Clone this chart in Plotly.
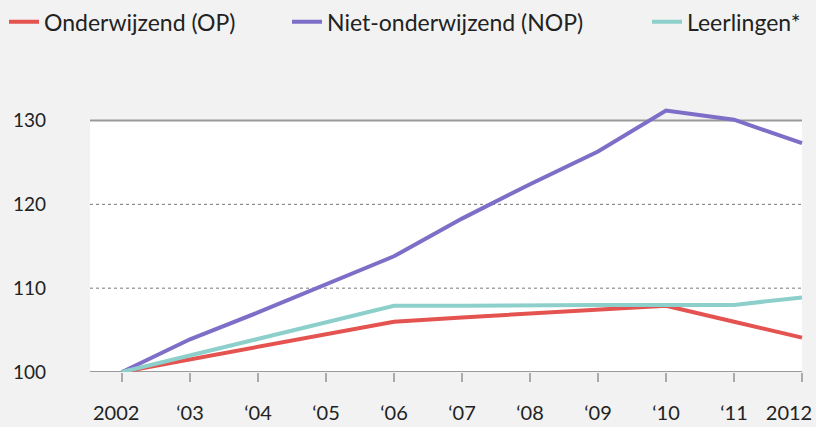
import plotly.graph_objects as go

years = [2002, 2003, 2004, 2005, 2006, 2007, 2008, 2009, 2010, 2011, 2012]
year_labels = ['2002', '‘03', '‘04', '‘05', '‘06', '‘07', '‘08', '‘09', '‘10', '‘11', '2012']

op = [100, 101.5, 103, 104.5, 106, 106.5, 107.0, 107.4, 107.9, 106.0, 104.1]
nop = [100, 103.9, 107.1, 110.4, 113.8, 118.3, 122.4, 126.3, 131.2, 130.1, 127.3]
leerlingen = [100, 102, 104, 106, 107.9, 107.9, 108.0, 108.0, 108.0, 108.0, 108.9]

names = ['Onderwijzend (OP)', 'Niet-onderwijzend (NOP)', 'Leerlingen*']
series = [op, nop, leerlingen]
colors = ['#e4534f', '#7e6ec8', '#8dd0cb']
legends = ['legend', 'legend2', 'legend3']
legend_px = [4, 287, 647]

y_ticks = [100, 110, 120, 130]

W, H = 816, 427
B = 55
BG = '#f2f2f2'
FONT = 'Lato'
PX_PER_YEAR = 68
PX_PER_UNIT = 8.52
X0_PX = 122                       # pixel of 2002
PANEL_LEFT = 2002 - 32 / PX_PER_YEAR
X_RANGE = [2002 - X0_PX / PX_PER_YEAR, 2002 + (W - X0_PX) / PX_PER_YEAR]
Y_RANGE = [100, 100 + (H - B) / PX_PER_UNIT]

# the last label sits left of its tick in the original, so it gets its own axis
main_text = list(year_labels)
main_text[0] = main_text[0] + '\u2007'
main_text[-1] = ''

fig = go.Figure()
for name, vals, col, lg in zip(names, series, colors, legends):
    fig.add_trace(go.Scatter(x=years, y=vals, name=name, mode='lines', showlegend=True,
                             line=dict(color=col, width=4), legend=lg))
# invisible anchor so the overlay axis for the "2012" label gets drawn
fig.add_trace(go.Scatter(x=[years[-1]], y=[y_ticks[0]], xaxis='x2', mode='markers',
                         marker=dict(opacity=0), showlegend=False, hoverinfo='skip'))

# white panel 100..130; the NOP line pokes above it into the grey
fig.add_shape(type='rect', xref='x', yref='y', x0=PANEL_LEFT, x1=2012, y0=100, y1=130,
              fillcolor='white', line_width=0, layer='below')
for v in [110, 120]:
    fig.add_shape(type='line', xref='x', yref='y', x0=PANEL_LEFT, x1=2012, y0=v, y1=v,
                  line=dict(color='#777', width=1, dash='dot'), layer='below')
for v in [100, 130]:
    fig.add_shape(type='line', xref='x', yref='y', x0=PANEL_LEFT, x1=2012, y0=v, y1=v,
                  line=dict(color='#9a9a9a', width=2), layer='below')

leg_common = dict(orientation='h', xref='paper', yref='paper', y=1 - 16 / (H - B),
                  yanchor='middle', xanchor='left', bgcolor='rgba(0,0,0,0)',
                  font=dict(family=FONT, size=23, color='#222'))
xtick_font = dict(size=20, color='#222')
fig.update_layout(
    width=W, height=H, showlegend=True,
    paper_bgcolor=BG, plot_bgcolor=BG,
    margin={'l': 0, 'r': 0, 't': 0, 'b': B},
    font=dict(family=FONT, color='#222'),
    legend=dict(x=legend_px[0] / W, **leg_common),
    legend2=dict(x=legend_px[1] / W, **leg_common),
    legend3=dict(x=legend_px[2] / W, **leg_common),
    xaxis=dict(range=X_RANGE, tickvals=years, ticktext=main_text, showgrid=False,
               zeroline=False, showline=False, ticks='outside', ticklen=9, tickwidth=1.5,
               tickcolor='#aaa', tickfont=xtick_font, ticklabelstandoff=14,
               ticklabeloverflow='allow', automargin=False),
    xaxis2=dict(range=X_RANGE, overlaying='x', anchor='y', side='bottom',
                tickvals=[years[-1]], ticktext=[year_labels[-1]], showgrid=False,
                zeroline=False, showline=False, ticks='outside', ticklen=9,
                tickcolor='rgba(0,0,0,0)', tickfont=xtick_font, ticklabelstandoff=14,
                ticklabelshift=-13, ticklabeloverflow='allow', automargin=False),
    yaxis=dict(range=Y_RANGE, tickvals=y_ticks, showgrid=False, zeroline=False,
               showline=False, ticklabelposition='inside', ticklabelstandoff=10,
               ticklabeloverflow='allow', tickfont=dict(size=19, color='#222'),
               automargin=False),
)

# drop the default 8px body margin so the figure fills the window
fig.write_html("out.html", config={'displayModeBar': False},
               post_script="document.body.style.margin='0';")
